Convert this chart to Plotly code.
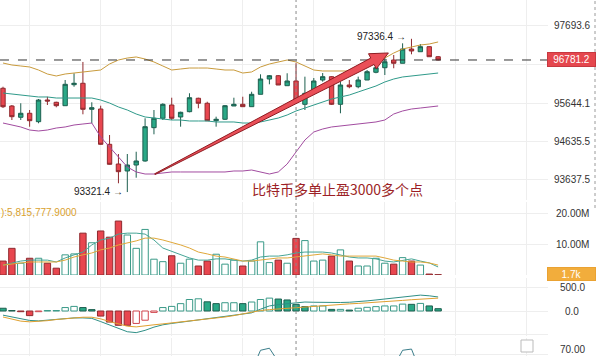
import plotly.graph_objects as go

# ---------------- data ----------------
OPEN = [96040, 95576, 95280, 95385, 95165, 95733, 95673, 95584, 96134, 96171,
        95489, 95497, 94572, 94056, 93873, 94030, 94135, 95008, 95254, 95602,
        95288, 95427, 95778, 95647, 95191, 95228, 95576, 95620, 95558, 95882,
        96283, 96370, 96108, 96231, 95620, 95950, 96257, 96344, 95620, 96126,
        96081, 96257, 96459, 96579, 96781, 96695, 97069, 96998, 97130, 96867]
HIGH = [96081, 95602, 95647, 95471, 95759, 95819, 95688, 96257, 96433, 96729,
        95673, 95584, 94816, 94318, 94318, 94378, 95254, 95471, 95647, 95793,
        95427, 95909, 95793, 95688, 95296, 95602, 95793, 95819, 95950, 96406,
        96388, 96388, 96433, 96700, 96344, 96309, 96440, 96360, 96213, 96257,
        96344, 96519, 96632, 96833, 96912, 97218, 97336.4, 97200, 97140, 96886]
LOW = [95523, 95209, 95209, 95033, 95123, 95602, 95542, 95584, 96081, 95358,
       95123, 94560, 94040, 93551, 93321.4, 93697, 94117, 94834, 95209, 95209,
       95034, 95411, 95516, 95180, 95034, 95209, 95576, 95558, 95558, 95882,
       96144, 96126, 96108, 95733, 95471, 95916, 96213, 95602, 95385, 96040,
       96040, 96257, 96433, 96388, 96564, 96695, 96930, 96998, 96867, 96770]
CLOSE = [95557, 95296, 95385, 95191, 95733, 95707, 95584, 96144, 96171, 95489,
         95531, 94572, 94048, 93855, 94030, 94135, 95034, 95254, 95620, 95254,
         95411, 95793, 95647, 95191, 95228, 95584, 95620, 95558, 95882, 96283,
         96370, 96126, 96231, 95733, 95908, 96231, 96344, 95620, 96126, 96081,
         96257, 96475, 96579, 96736, 96695, 97069, 97017, 97130, 96867, 96781.2]

BOLL_UP = [96702, 96650, 96624, 96598, 96519, 96414, 96362, 96414, 96440, 96467,
           96493, 96519, 96676, 96781, 96833, 96860, 96807, 96729, 96624, 96519,
           96545, 96571, 96571, 96571, 96545, 96519, 96519, 96440, 96467, 96598,
           96676, 96729, 96781, 96729, 96624, 96519, 96493, 96493, 96493, 96493,
           96519, 96598, 96702, 96833, 96964, 97069, 97122, 97174, 97200, 97253]
BOLL_MID = [95916, 95890, 95864, 95838, 95812, 95812, 95785, 95785, 95785, 95785,
            95785, 95733, 95654, 95550, 95471, 95366, 95288, 95261, 95235, 95209,
            95209, 95183, 95183, 95183, 95157, 95157, 95157, 95130, 95130, 95157,
            95209, 95261, 95340, 95445, 95523, 95602, 95681, 95759, 95812, 95864,
            95943, 96021, 96100, 96205, 96283, 96336, 96362, 96388, 96414, 96440]
BOLL_LOW = [95130, 95078, 95026, 94947, 94921, 94947, 94999, 95026, 95078, 95104,
            95130, 94764, 94502, 94213, 93978, 93847, 93794, 93794, 93820, 93847,
            93847, 93847, 93847, 93847, 93847, 93847, 93873, 93873, 93899, 93847,
            93794, 93847, 94056, 94371, 94685, 94895, 94973, 95026, 95052, 95078,
            95104, 95130, 95157, 95209, 95366, 95445, 95497, 95523, 95550, 95576]

VOLUME_M = [4.5, 8.6, 3.8, 5.4, 5.4, 3.8, 2.2, 6.5, 6.8, 13.5,
            10.4, 14.2, 12.2, 17.4, 12.9, 8.6, 14.7, 5.1, 4.3, 6.2,
            3.8, 5.1, 2.9, 4.5, 6.7, 3.5, 4.8, 2.9, 4.5, 10.7,
            4.0, 4.8, 3.8, 11.8, 11.1, 4.5, 4.8, 6.1, 8.1, 4.5,
            2.9, 2.9, 5.4, 3.8, 3.5, 5.6, 4.5, 3.2, 0.3, 0.1]
VOL_MA5_M = [3.2, 3.9, 4.5, 4.8, 4.8, 4.8, 4.2, 5.5, 6.5, 7.4,
             9.7, 11.3, 11.9, 13.2, 13.5, 13.5, 13.2, 11.3, 8.7, 7.7,
             6.5, 5.5, 4.8, 4.8, 5.2, 5.2, 4.8, 4.5, 4.8, 5.8,
             6.1, 6.1, 6.5, 7.1, 7.4, 7.4, 7.4, 7.1, 6.5, 5.8,
             5.5, 5.5, 5.2, 4.5, 4.2, 4.8, 5.2, 4.5, 3.9, 2.6]
VOL_MA10_M = [3.2, 3.5, 3.9, 4.2, 4.2, 4.2, 4.2, 4.8, 5.8, 6.5,
              7.1, 8.1, 8.7, 9.7, 10.3, 11.0, 11.9, 11.9, 11.3, 10.6,
              9.7, 8.7, 7.4, 6.8, 6.1, 5.8, 5.2, 4.5, 4.5, 4.8,
              5.2, 5.5, 5.5, 5.8, 6.1, 6.5, 6.8, 6.5, 6.1, 6.1,
              6.1, 6.1, 6.1, 5.5, 4.8, 4.5, 4.2, 4.2, 3.9, 3.2]

MACD_HIST = [60, 10, -15, -100, -15, 10, 10, 75, 100, 75,
             30, -110, -240, -310, -310, -270, -200, -30, 75, 100,
             160, 250, 265, 200, 160, 180, 180, 160, 195, 250,
             280, 260, 240, 145, 95, 110, 110, 35, 35, 20,
             60, 80, 95, 110, 110, 150, 145, 165, 110, 50]
MACD_DIF = [-90, -130, -170, -205, -215, -200, -175, -155, -150, -150,
            -160, -230, -304, -390, -450, -470, -420, -350, -300, -270,
            -245, -210, -180, -160, -135, -110, -85, -60, -40, 40,
            110, 140, 160, 175, 195, 190, 185, 180, 185, 190,
            200, 220, 240, 260, 280, 305, 330, 345, 330, 305]
MACD_DEA = [-130, -180, -220, -235, -230, -210, -185, -165, -150, -135,
            -135, -170, -230, -280, -330, -345, -330, -300, -280, -260,
            -240, -220, -200, -180, -160, -130, -100, -60, -25, 10,
            30, 45, 60, 70, 90, 110, 125, 135, 145, 155,
            165, 175, 185, 200, 215, 230, 245, 260, 270, 280]

RSI = [55, 55, 55, 55, 55, 55, 55, 55, 55, 55,
       55, 55, 55, 55, 55, 55, 55, 55, 55, 55,
       55, 55, 55, 55, 55, 55, 55, 55, 66, 71,
       71.5, 67, 55, 55, 55, 55, 55, 55, 55, 55,
       55, 55, 55, 55, 67, 71, 71.3, 66, 55, 55]

PRICE_TICKS = [97693.6, 95644.1, 94635.5, 93637.5]
PRICE_GRID = [97693.6, 96668.8, 95644.1, 94635.5, 93637.5]
VOL_TICKS = [20e6, 10e6]
VOL_TICK_TEXT = ["20.00M", "10.00M"]
MACD_TICKS = [500, 0]
MACD_TICK_TEXT = ["500.0", "0.0"]
LAST_PRICE = 96781.2
LAST_VOL_TEXT = "1.7k"
HIGH_LABEL = "97336.4"
LOW_LABEL = "93321.4"
VOL_LEGEND = "):5,815,777.9000"
NOTE = "比特币多单止盈3000多个点"
X_GRID = [3, 11, 19, 27, 35, 43, 51, 59]
CROSS_IDX = 33
ARROW_START = (17.1, 93790)
ARROW_TIP = (43.4, 96965)

# ---------------- layout geometry ----------------
W, H = 600, 356
PLOT_W = 548
PX_PER_BAR = 8.88
X0 = -3 / PX_PER_BAR
X1 = X0 + PLOT_W / PX_PER_BAR
PRICE_RANGE = [93113, 98353]
PRICE_PANE = (0, 200)
VOL_PANE = (202, 275)
MACD_PANE = (278, 336)
RSI_PANE = (338, 356)
VOL_RANGE = [0, 23.55e6]
MACD_RANGE = [-543, 717]
RSI_RANGE = [69.6, 74]


def dom(pane):
    return [1 - pane[1] / H, 1 - pane[0] / H]


def py_to_paper(py):
    return 1 - py / H


UP_FILL, UP_LINE = "#2aa987", "#1d5f4f"
DN_FILL, DN_LINE = "#e8464f", "#8f2a2f"
GRID = "#eeeeee"
LABEL_FONT = dict(family="Liberation Sans, Arial", size=10, color="#333333")

n = len(CLOSE)
X = list(range(n))
up = [CLOSE[i] >= OPEN[i] for i in range(n)]

fig = go.Figure()

# Bollinger bands
fig.add_trace(go.Scatter(x=X, y=BOLL_UP, mode="lines", line=dict(color="#c99b3c", width=1), xaxis="x", yaxis="y"))
fig.add_trace(go.Scatter(x=X, y=BOLL_MID, mode="lines", line=dict(color="#2f9a8a", width=1), xaxis="x", yaxis="y"))
fig.add_trace(go.Scatter(x=X, y=BOLL_LOW, mode="lines", line=dict(color="#a24ca0", width=1), xaxis="x", yaxis="y"))

# candles
fig.add_trace(go.Candlestick(
    x=X, open=OPEN, high=HIGH, low=LOW, close=CLOSE,
    increasing=dict(fillcolor=UP_FILL, line=dict(color=UP_LINE, width=1)),
    decreasing=dict(fillcolor=DN_FILL, line=dict(color=DN_LINE, width=1)),
    whiskerwidth=0, xaxis="x", yaxis="y"))

# volume
vol = [v * 1e6 for v in VOLUME_M]
fig.add_trace(go.Bar(
    x=X, y=vol, width=0.72, xaxis="x2", yaxis="y2",
    marker=dict(color=["#ffffff" if u else DN_FILL for u in up],
                line=dict(color=["#3a9a88" if u else DN_LINE for u in up], width=1))))
fig.add_trace(go.Scatter(x=X, y=[v * 1e6 for v in VOL_MA5_M], mode="lines",
                         line=dict(color="#46a596", width=1), xaxis="x2", yaxis="y2"))
fig.add_trace(go.Scatter(x=X, y=[v * 1e6 for v in VOL_MA10_M], mode="lines",
                         line=dict(color="#e0a83a", width=1), xaxis="x2", yaxis="y2"))

# MACD histogram
fills, lines = [], []
for i, h in enumerate(MACD_HIST):
    prev = MACD_HIST[i - 1] if i > 0 else h + 1
    if h >= 0:
        filled = h < prev
        fills.append(UP_FILL if filled else "#ffffff")
        lines.append(UP_LINE if filled else "#3a9a88")
    else:
        filled = h <= prev
        fills.append(DN_FILL if filled else "#ffffff")
        lines.append(DN_LINE if filled else "#d0454d")
fig.add_trace(go.Bar(x=X, y=MACD_HIST, width=0.72, xaxis="x3", yaxis="y3",
                     marker=dict(color=fills, line=dict(color=lines, width=1))))
fig.add_trace(go.Scatter(x=X, y=MACD_DIF, mode="lines", line=dict(color="#2f8f86", width=1), xaxis="x3", yaxis="y3"))
fig.add_trace(go.Scatter(x=X, y=MACD_DEA, mode="lines", line=dict(color="#e0a030", width=1), xaxis="x3", yaxis="y3"))

# bottom pane line
fig.add_trace(go.Scatter(x=X, y=RSI, mode="lines", line=dict(color="#3a7d8a", width=1), xaxis="x4", yaxis="y4"))

xdom = [0, PLOT_W / W]
xcommon = dict(range=[X0, X1], domain=xdom, showticklabels=False, tickvals=X_GRID,
               showgrid=True, gridcolor=GRID, zeroline=False, showline=False, ticks="", fixedrange=True)
ycommon = dict(showticklabels=False, showgrid=True, gridcolor=GRID, zeroline=False, showline=False, ticks="")

fig.update_layout(
    width=W, height=H, margin=dict(l=0, r=0, t=0, b=0),
    paper_bgcolor="white", plot_bgcolor="white", showlegend=False, boxgap=0.3,
    xaxis=dict(**xcommon, anchor="y", rangeslider=dict(visible=False)),
    xaxis2=dict(**xcommon, anchor="y2"),
    xaxis3=dict(**xcommon, anchor="y3"),
    xaxis4=dict(**xcommon, anchor="y4"),
    yaxis=dict(**ycommon, domain=dom(PRICE_PANE), range=PRICE_RANGE, tickvals=PRICE_GRID, anchor="x"),
    yaxis2=dict(**ycommon, domain=dom(VOL_PANE), range=VOL_RANGE, tickvals=[0, 10e6, 20e6], anchor="x2"),
    yaxis3=dict(**ycommon, domain=dom(MACD_PANE), range=MACD_RANGE, tickvals=[-500, 0, 500], anchor="x3"),
    yaxis4=dict(**ycommon, domain=dom(RSI_PANE), range=RSI_RANGE, tickvals=[70], anchor="x4"),
)

# ---------------- axis labels ----------------
LX = 572 / W
ann = []
for v in PRICE_TICKS:
    ann.append(dict(x=LX, xref="paper", y=v, yref="y", text=f"{v:.1f}", showarrow=False,
                    xanchor="center", yanchor="middle", font=LABEL_FONT))
for v, t in zip(VOL_TICKS, VOL_TICK_TEXT):
    ann.append(dict(x=LX, xref="paper", y=v, yref="y2", text=t, showarrow=False,
                    xanchor="center", yanchor="middle", font=LABEL_FONT))
for v, t in zip(MACD_TICKS, MACD_TICK_TEXT):
    ann.append(dict(x=LX, xref="paper", y=v, yref="y3", text=t, showarrow=False,
                    xanchor="center", yanchor="middle", font=LABEL_FONT))
ann.append(dict(x=LX, xref="paper", y=py_to_paper(349), yref="paper", text="70.00", showarrow=False,
                xanchor="center", yanchor="middle", font=LABEL_FONT))

# last price tag
ann.append(dict(x=547 / W, xref="paper", y=LAST_PRICE, yref="y", text=f"{LAST_PRICE:.1f}",
                showarrow=False, xanchor="left", yanchor="middle", bgcolor="#e5474e",
                bordercolor="#c73840", borderwidth=1, borderpad=1, width=45, height=11,
                font=dict(family="Liberation Sans, Arial", size=10, color="white")))
# last volume tag
ann.append(dict(x=547 / W, xref="paper", y=py_to_paper(273.5), yref="paper", text=LAST_VOL_TEXT,
                showarrow=False, xanchor="left", yanchor="middle", bgcolor="#f2ad3c",
                bordercolor="#eaa232", borderwidth=1, borderpad=1, width=45, height=10,
                font=dict(family="Liberation Sans, Arial", size=10, color="white")))

# high / low marks
ann.append(dict(x=46, xref="x", y=97336.4, yref="y", text=HIGH_LABEL + " →", showarrow=False,
                xanchor="right", yanchor="middle", xshift=-3, yshift=2,
                font=dict(family="Liberation Sans, Arial", size=10, color="#222222")))
ann.append(dict(x=14, xref="x", y=93321.4, yref="y", text=LOW_LABEL + " →", showarrow=False,
                xanchor="right", yanchor="middle", xshift=-2, yshift=1,
                font=dict(family="Liberation Sans, Arial", size=10, color="#222222")))

# volume legend text
ann.append(dict(x=-0.002, xref="paper", y=py_to_paper(212), yref="paper", text=VOL_LEGEND,
                showarrow=False, xanchor="left", yanchor="middle",
                font=dict(family="Liberation Sans, Arial", size=10, color="#d9a12e")))

# note
ann.append(dict(x=337 / W, xref="paper", y=py_to_paper(189), yref="paper", text=NOTE,
                showarrow=False, xanchor="center", yanchor="middle",
                font=dict(family="Noto Sans CJK SC", size=14, color="#9c1f26")))

# ---------------- shapes ----------------
shapes = []
shapes.append(dict(type="line", xref="paper", yref="y", x0=0, x1=PLOT_W / W, y0=LAST_PRICE, y1=LAST_PRICE,
                   line=dict(color="#333333", width=1, dash="dash"), layer="above"))
shapes.append(dict(type="line", xref="x", yref="paper", x0=CROSS_IDX, x1=CROSS_IDX, y0=0, y1=1,
                   line=dict(color="#8a8a8a", width=1, dash="dot"), layer="above"))
shapes.append(dict(type="line", xref="paper", yref="paper", x0=595 / W, x1=595 / W,
                   y0=py_to_paper(208), y1=1, line=dict(color="#9a9a9a", width=1, dash="dot")))
shapes.append(dict(type="rect", xref="paper", yref="paper", x0=521 / W, x1=533 / W,
                   y0=py_to_paper(352), y1=py_to_paper(340),
                   line=dict(color="#bbbbbb", width=1), fillcolor="white"))

# arrow wedge (annotation drawn in data coords)
PRICE_PER_PX = (PRICE_RANGE[1] - PRICE_RANGE[0]) / (PRICE_PANE[1] - PRICE_PANE[0])


def to_px(i, p):
    return ((i - X0) * PX_PER_BAR, (PRICE_RANGE[1] - p) / PRICE_PER_PX)


def to_data(px, py):
    return (X0 + px / PX_PER_BAR, PRICE_RANGE[1] - py * PRICE_PER_PX)


sx, sy = to_px(*ARROW_START)
tx, ty = to_px(*ARROW_TIP)
L = ((tx - sx) ** 2 + (ty - sy) ** 2) ** 0.5
ux, uy = (tx - sx) / L, (ty - sy) / L
nx, ny = -uy, ux
bx, by = tx - 18 * ux, ty - 18 * uy
pts_px = [(sx + nx * 0.4, sy + ny * 0.4), (bx + nx * 3.6, by + ny * 3.6), (bx + nx * 8.5, by + ny * 8.5),
          (tx, ty), (bx - nx * 8.5, by - ny * 8.5), (bx - nx * 3.6, by - ny * 3.6),
          (sx - nx * 0.4, sy - ny * 0.4)]
pts = [to_data(*p) for p in pts_px]
path = "M " + " L ".join(f"{a:.4f},{b:.2f}" for a, b in pts) + " Z"
shapes.append(dict(type="path", xref="x", yref="y", path=path, fillcolor="#ea4f58",
                   line=dict(color="#8e1c22", width=1), layer="above"))

fig.update_layout(annotations=ann, shapes=shapes)
fig.write_html("out.html", config={"displayModeBar": False},
               post_script="document.body.style.margin='0';document.body.style.overflow='hidden';")
